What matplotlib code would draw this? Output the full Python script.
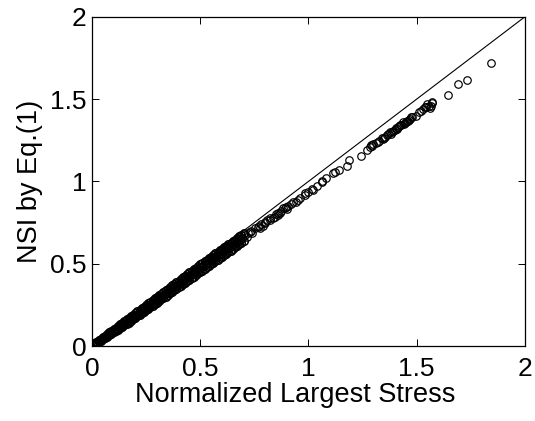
import matplotlib
matplotlib.use("Agg")
import matplotlib.pyplot as plt

# dense band: upper, middle and lower rows
x_band_u = [0.01, 0.02, 0.03, 0.04, 0.05, 0.06, 0.07, 0.08, 0.09, 0.10,
            0.11, 0.12, 0.13, 0.14, 0.15, 0.16, 0.17, 0.18, 0.19, 0.20,
            0.21, 0.22, 0.23, 0.24, 0.25, 0.26, 0.27, 0.28, 0.29, 0.30,
            0.31, 0.32, 0.33, 0.34, 0.35, 0.36, 0.37, 0.38, 0.39, 0.40,
            0.41, 0.42, 0.43, 0.44, 0.45, 0.46, 0.47, 0.48, 0.49, 0.50,
            0.51, 0.52, 0.53, 0.54, 0.55, 0.56, 0.57, 0.58, 0.59, 0.60,
            0.61, 0.62, 0.63, 0.64, 0.65, 0.66, 0.67, 0.68, 0.69, 0.70]
y_band_u = [0.014, 0.024, 0.034, 0.043, 0.053, 0.063, 0.073, 0.083, 0.093, 0.103,
            0.112, 0.122, 0.132, 0.142, 0.152, 0.162, 0.171, 0.181, 0.191, 0.201,
            0.211, 0.221, 0.231, 0.240, 0.250, 0.260, 0.270, 0.280, 0.290, 0.300,
            0.309, 0.319, 0.329, 0.339, 0.349, 0.359, 0.368, 0.378, 0.388, 0.398,
            0.408, 0.418, 0.428, 0.437, 0.447, 0.457, 0.467, 0.477, 0.487, 0.497,
            0.506, 0.516, 0.525, 0.535, 0.544, 0.553, 0.563, 0.572, 0.582, 0.591,
            0.600, 0.610, 0.619, 0.629, 0.638, 0.647, 0.657, 0.666, 0.676, 0.685]
x_band_m = [0.005, 0.015, 0.025, 0.035, 0.045, 0.055, 0.065, 0.075, 0.085, 0.095,
            0.105, 0.115, 0.125, 0.135, 0.145, 0.155, 0.165, 0.175, 0.185, 0.195,
            0.205, 0.215, 0.225, 0.235, 0.245, 0.255, 0.265, 0.275, 0.285, 0.295,
            0.305, 0.315, 0.325, 0.335, 0.345, 0.355, 0.365, 0.375, 0.385, 0.395,
            0.405, 0.415, 0.425, 0.435, 0.445, 0.455, 0.465, 0.475, 0.485, 0.495,
            0.505, 0.515, 0.525, 0.535, 0.545, 0.555, 0.565, 0.575, 0.585, 0.595,
            0.605, 0.615, 0.625, 0.635, 0.645, 0.655, 0.665, 0.675, 0.685, 0.695]
y_band_m = [0.006, 0.016, 0.025, 0.034, 0.043, 0.052, 0.061, 0.070, 0.079, 0.088,
            0.097, 0.106, 0.115, 0.125, 0.134, 0.143, 0.152, 0.162, 0.172, 0.181,
            0.191, 0.200, 0.210, 0.220, 0.229, 0.239, 0.248, 0.258, 0.267, 0.277,
            0.286, 0.296, 0.306, 0.315, 0.325, 0.334, 0.344, 0.353, 0.363, 0.373,
            0.382, 0.392, 0.401, 0.411, 0.420, 0.430, 0.440, 0.449, 0.459, 0.468,
            0.478, 0.487, 0.497, 0.506, 0.516, 0.525, 0.534, 0.544, 0.553, 0.562,
            0.572, 0.581, 0.590, 0.600, 0.609, 0.618, 0.628, 0.637, 0.646, 0.656]
x_band_l = [0.01, 0.02, 0.03, 0.04, 0.05, 0.06, 0.07, 0.08, 0.09, 0.10,
            0.11, 0.12, 0.13, 0.14, 0.15, 0.16, 0.17, 0.18, 0.19, 0.20,
            0.21, 0.22, 0.23, 0.24, 0.25, 0.26, 0.27, 0.28, 0.29, 0.30,
            0.31, 0.32, 0.33, 0.34, 0.35, 0.36, 0.37, 0.38, 0.39, 0.40,
            0.41, 0.42, 0.43, 0.44, 0.45, 0.46, 0.47, 0.48, 0.49, 0.50,
            0.51, 0.52, 0.53, 0.54, 0.55, 0.56, 0.57, 0.58, 0.59, 0.60,
            0.61, 0.62, 0.63, 0.64, 0.65, 0.66, 0.67, 0.68, 0.69, 0.70]
y_band_l = [0.008, 0.017, 0.025, 0.033, 0.042, 0.050, 0.058, 0.066, 0.075, 0.083,
            0.091, 0.100, 0.108, 0.116, 0.125, 0.134, 0.143, 0.152, 0.162, 0.171,
            0.180, 0.190, 0.199, 0.208, 0.218, 0.227, 0.236, 0.245, 0.255, 0.264,
            0.273, 0.283, 0.292, 0.301, 0.311, 0.320, 0.329, 0.338, 0.348, 0.357,
            0.366, 0.376, 0.385, 0.394, 0.404, 0.413, 0.422, 0.431, 0.441, 0.450,
            0.459, 0.469, 0.478, 0.487, 0.497, 0.506, 0.515, 0.524, 0.534, 0.543,
            0.552, 0.562, 0.571, 0.580, 0.590, 0.599, 0.608, 0.617, 0.627, 0.636]

# middle and upper, individually read points
x_sparse = [0.707, 0.714, 0.72, 0.73, 0.735, 0.74, 0.753, 0.765, 0.77, 0.776,
            0.78, 0.79, 0.799, 0.80, 0.81, 0.822, 0.823, 0.835, 0.845, 0.85,
            0.86, 0.86, 0.87, 0.875, 0.884, 0.891, 0.895, 0.90, 0.905, 0.92,
            0.93, 0.941, 0.95, 0.96, 0.984, 0.984, 1.0,
            1.018, 1.022, 1.04, 1.061, 1.061, 1.08, 1.115, 1.122, 1.14, 1.176,
            1.188, 1.241, 1.27, 1.284, 1.29, 1.295, 1.30, 1.31, 1.32, 1.325,
            1.338, 1.345, 1.35, 1.355, 1.365, 1.37, 1.376, 1.38, 1.385, 1.39,
            1.40, 1.405, 1.41, 1.415, 1.42, 1.425, 1.43, 1.437, 1.44, 1.445,
            1.45, 1.455, 1.46, 1.465, 1.47, 1.475, 1.48, 1.495, 1.51, 1.52,
            1.53, 1.54, 1.545, 1.55, 1.555, 1.561, 1.565, 1.573, 1.57,
            1.647, 1.689, 1.734, 1.842]
y_sparse = [0.675, 0.664, 0.684, 0.69, 0.699, 0.685, 0.715, 0.724, 0.73, 0.715,
            0.74, 0.728, 0.756, 0.745, 0.765, 0.766, 0.776, 0.775, 0.786, 0.80,
            0.806, 0.795, 0.81, 0.82, 0.837, 0.837, 0.845, 0.83, 0.848, 0.862,
            0.875, 0.877, 0.885, 0.898, 0.928, 0.918, 0.935,
            0.953, 0.948, 0.975, 1.005, 0.999, 1.02, 1.05, 1.06, 1.07, 1.094,
            1.131, 1.155, 1.19, 1.212, 1.22, 1.215, 1.225, 1.232, 1.24, 1.245,
            1.262, 1.255, 1.265, 1.27, 1.28, 1.29, 1.303, 1.29, 1.30, 1.305,
            1.315, 1.325, 1.32, 1.33, 1.335, 1.34, 1.345, 1.364, 1.35, 1.355,
            1.36, 1.37, 1.37, 1.375, 1.38, 1.39, 1.39, 1.40, 1.42, 1.43,
            1.44, 1.45, 1.455, 1.47, 1.46, 1.445, 1.46, 1.481, 1.475,
            1.528, 1.589, 1.617, 1.722]

ref_line = [0, 2]
xticks = [0, 0.5, 1, 1.5, 2]
xtick_labels = ["0", "0.5", "1", "1.5", "2"]

plt.rcParams['font.family'] = ['Liberation Sans', 'DejaVu Sans']

fig = plt.figure(figsize=(5.35, 4.21), dpi=100)
ax = fig.add_axes([0.172, 0.178, 0.809, 0.782])

ax.plot(ref_line, ref_line, color='black', linewidth=0.8)
mk = dict(linestyle='none', marker='o', markersize=5.4, markerfacecolor='none',
          markeredgecolor='black', markeredgewidth=0.85)
mk_band = dict(mk, markeredgewidth=1.1)
ax.plot(x_band_u, y_band_u, **mk_band)
ax.plot(x_band_m, y_band_m, **mk_band)
ax.plot(x_band_l, y_band_l, **mk_band)
ax.plot(x_sparse, y_sparse, **mk)

ax.set_xlim(0, 2)
ax.set_ylim(0, 2)
ax.set_xticks(xticks)
ax.set_xticklabels(xtick_labels)
ax.set_yticks(xticks)
ax.set_yticklabels(xtick_labels)
ax.tick_params(direction='in', length=5, width=0.7, top=True, right=True,
               labelsize=19)
ax.tick_params(axis='x', pad=8)
ax.tick_params(axis='y', pad=4)
for s in ax.spines.values():
    s.set_linewidth(0.9)

ax.set_xlabel('Normalized Largest Stress', fontsize=19.5, labelpad=1)
ax.xaxis.set_label_coords(0.47, -0.108, transform=ax.transAxes)
ax.xaxis.label.set_va('top')
ax.set_ylabel('NSI by Eq.(1)', fontsize=19.5, labelpad=5)

fig.savefig('out.png', dpi=100)
